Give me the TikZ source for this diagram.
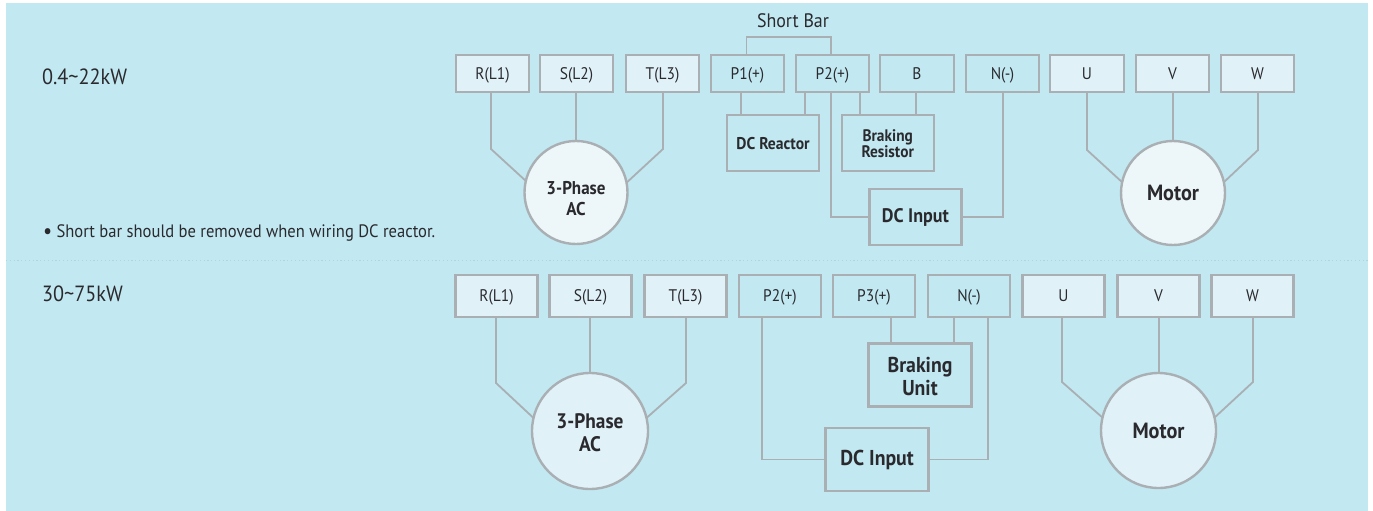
\documentclass[tikz,border=0pt]{standalone}
\usepackage{fontspec}
\setmainfont[FakeStretch=0.92]{PT Sans}
\definecolor{panel}{HTML}{C2E8F1}
\definecolor{edge}{HTML}{A9AFB3}
\definecolor{lightbox}{HTML}{E0F1F8}
\definecolor{lightdisc}{HTML}{EDF7F9}
\definecolor{ink}{HTML}{2A2A2E}
\definecolor{dots}{HTML}{AFD5DE}
\tikzset{
  x=1pt,y=-1pt,
  frame/.style={draw=edge,line width=2.4pt,outer sep=0pt,inner sep=0pt,align=center,text=ink},
  term/.style={frame,font=\fontsize{16.8}{18}\selectfont,text height=14pt,text depth=3pt},
  terma/.style={term,minimum width=73.5pt,minimum height=37.5pt},
  termb/.style={term,minimum width=82pt,minimum height=42.5pt},
  lit/.style={fill=lightbox},
  part/.style={frame,font=\fontsize{17}{17}\bfseries\selectfont},
  partb/.style={frame,font=\fontsize{21.5}{23}\bfseries\selectfont},
  disc/.style={frame,circle,fill=lightdisc},
  wire/.style={draw=edge,line width=1.8pt,line join=miter},
  plain/.style={text=ink,inner sep=0pt,outer sep=0pt,font=\fontsize{22}{22}\selectfont},
}
\begin{document}
\begin{tikzpicture}
\useasboundingbox (0,0) rectangle (1373,511);
\fill[panel] (6,3) rectangle (1368,511);
\coordinate (dotL) at (6,260);
\coordinate (dotR) at (1368,260);
\draw[draw=dots,line width=1pt,dash pattern=on 1.2pt off 2.6pt] (dotL) -- (dotR);

% labels
\node[plain,anchor=west] (p1) at (42,77) {0.4\char"007E 22kW};
\node[plain,anchor=west] (p2) at (42,294) {30\char"007E 75kW};
\node[plain,anchor=center,font=\fontsize{19.5}{20}\selectfont] (sb) at (793,21) {Short Bar};
\node[plain,anchor=west,font=\fontsize{18}{20}\selectfont] (note) at (43,233) {\raisebox{-1pt}{\fontsize{22}{20}\selectfont\textbullet}\ Short bar should be removed when wiring DC reactor.};

% upper row terminals
\node[terma,lit] (R) at (492.5,73.5) {R(L1)};
\node[terma,lit] (S) at (576.5,73.5) {S(L2)};
\node[terma,lit] (T) at (662.5,73.5) {T(L3)};
\node[terma] (Pa) at (747.5,73.5) {P1(+)};
\node[terma] (Pb) at (832.5,73.5) {P2(+)};
\node[terma] (B) at (917,73.5) {B};
\node[terma] (N) at (1002.5,73.5) {N(-)};
\node[terma,lit] (U) at (1087,73.5) {U};
\node[terma,lit] (V) at (1172.5,73.5) {V};
\node[terma,lit] (W) at (1257.5,73.5) {W};
\node[part,minimum width=92pt,minimum height=56pt] (DCR) at (773.1,143) {\rule{0pt}{14pt}DC Reactor};
\node[part,minimum width=92pt,minimum height=56pt,font=\fontsize{16.7}{16}\bfseries\selectfont] (BR) at (887.7,143) {\rule{0pt}{14pt}Braking\\Resistor};
\node[part,minimum width=92pt,minimum height=56pt,font=\fontsize{19.6}{20}\bfseries\selectfont] (DCI) at (915.4,217) {DC Input};
\node[disc,minimum size=103pt,font=\fontsize{18.5}{21}\bfseries\selectfont] (AC) at (576,192.5) {\rule{0pt}{26pt}3-Phase\\AC};
\node[disc,minimum size=104pt,font=\fontsize{22}{23}\bfseries\selectfont] (M) at (1173,193) {Motor};

% upper wiring
\coordinate (rb) at (491,149);
\coordinate (tb) at (663,149);
\coordinate (ub) at (1087,150);
\coordinate (wb) at (1258,150);
\draw[wire] (rb |- R.south) -- (rb) -- (AC.167);
\draw[wire] (S.south -| AC.north) -- (AC.north);
\draw[wire] (tb |- T.south) -- (tb) -- (AC.11);
\draw[wire] (ub |- U.south) -- (ub) -- (M.168);
\draw[wire] (M.north |- V.south) -- (M.north);
\draw[wire] (wb |- W.south) -- (wb) -- (M.12);
\coordinate (sa) at (746.5,37);
\coordinate (sc) at (831,37);
\draw[wire] (sa |- Pa.north) -- (sa) -- (sc) -- (sc |- Pb.north);
\coordinate (xa) at (741,0);
\coordinate (xb) at (805,0);
\coordinate (xc) at (860,0);
\coordinate (xd) at (916,0);
\draw[wire] (xa |- Pa.south) -- (xa |- DCR.north);
\draw[wire] (xb |- Pb.south) -- (xb |- DCR.north);
\draw[wire] (xc |- Pb.south) -- (xc |- BR.north);
\draw[wire] (xd |- B.south) -- (xd |- BR.north);
\coordinate (xe) at (831,0);
\coordinate (xf) at (1003,0);
\draw[wire] (xe |- Pb.south) -- (xe |- DCI.west) -- (DCI.west);
\draw[wire] (xf |- N.south) -- (xf |- DCI.east) -- (DCI.east);

% lower row terminals
\node[termb,lit] (Rb) at (496.5,296) {R(L1)};
\node[termb,lit] (Sb) at (590.5,296) {S(L2)};
\node[termb,lit] (Tb) at (685.5,296) {T(L3)};
\node[termb] (Pc) at (780,296) {P2(+)};
\node[termb] (Pd) at (874,296) {P3(+)};
\node[termb] (Nb) at (969,296) {N(-)};
\node[termb,lit] (Ub) at (1063.5,296) {U};
\node[termb,lit] (Vb) at (1158.5,296) {V};
\node[termb,lit] (Wb) at (1252.5,296) {W};
\node[partb,minimum width=103pt,minimum height=63pt] (BU) at (920,375) {\rule{0pt}{18pt}Braking\\Unit};
\node[partb,minimum width=103pt,minimum height=63pt] (DCIb) at (877,459.5) {DC Input};
\node[disc,fill=lightbox,minimum size=116pt,font=\fontsize{21}{23}\bfseries\selectfont] (ACb) at (590,431) {\rule{0pt}{18pt}3-Phase\\AC};
\node[disc,fill=lightbox,minimum size=115pt,font=\fontsize{22}{23}\bfseries\selectfont] (Mb) at (1158.5,430.5) {Motor};

% lower wiring
\coordinate (rc) at (496,383);
\coordinate (tc) at (686,383);
\coordinate (uc) at (1062,382);
\coordinate (vc) at (1159,0);
\coordinate (wc) at (1253,382);
\draw[wire] (rc |- Rb.south) -- (rc) -- (ACb.167);
\draw[wire] (ACb.north |- Sb.south) -- (ACb.north);
\draw[wire] (tc |- Tb.south) -- (tc) -- (ACb.13);
\draw[wire] (uc |- Ub.south) -- (uc) -- (Mb.167);
\draw[wire] (vc |- Vb.south) -- (vc |- Mb.north);
\draw[wire] (wc |- Wb.south) -- (wc) -- (Mb.13);
\coordinate (ya) at (762,0);
\coordinate (yb) at (891,0);
\coordinate (yc) at (954,0);
\coordinate (yd) at (988,0);
\draw[wire] (ya |- Pc.south) -- (ya |- DCIb.west) -- (DCIb.west);
\draw[wire] (yd |- Nb.south) -- (yd |- DCIb.east) -- (DCIb.east);
\draw[wire] (yb |- Pd.south) -- (yb |- BU.north);
\draw[wire] (yc |- Nb.south) -- (yc |- BU.north);
\end{tikzpicture}
\end{document}
